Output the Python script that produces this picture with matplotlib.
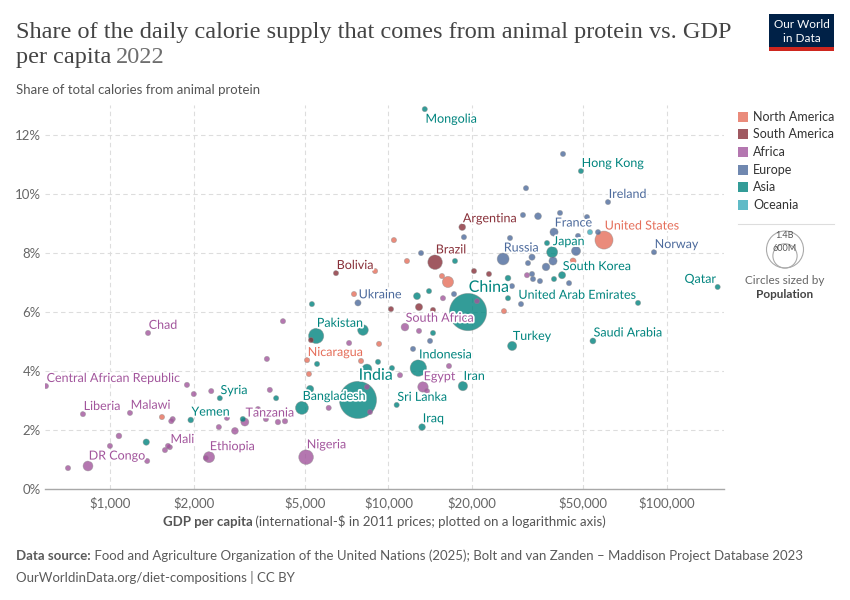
import matplotlib
matplotlib.use("Agg")
import matplotlib.pyplot as plt
import matplotlib.patheffects as pe
from matplotlib.patches import Rectangle, Circle
from matplotlib.colors import to_rgba
import numpy as np

# ---------------- data ----------------
# labelled countries
lab_names = ["Mongolia", "Hong Kong", "Ireland", "United States", "Norway", "Qatar",
             "Argentina", "Brazil", "Russia", "France", "Japan", "South Korea", "China",
             "United Arab Emirates", "Saudi Arabia", "Turkey", "Iran", "Iraq", "Sri Lanka",
             "Egypt", "Indonesia", "India", "Bangladesh", "Nigeria", "Pakistan", "Ukraine",
             "Bolivia", "South Africa", "Nicaragua", "Chad", "Central African Republic",
             "Liberia", "Malawi", "Yemen", "Syria", "Tanzania", "Mali", "Ethiopia", "DR Congo"]
lab_region = ["Asia", "Asia", "Europe", "North America", "Europe", "Asia",
              "South America", "South America", "Europe", "Europe", "Asia", "Asia", "Asia",
              "Asia", "Asia", "Asia", "Asia", "Asia", "Asia",
              "Africa", "Asia", "Asia", "Asia", "Africa", "Asia", "Europe",
              "South America", "Africa", "North America", "Africa", "Africa",
              "Africa", "Africa", "Asia", "Asia", "Africa", "Africa", "Africa", "Africa"]
lab_gdp = [13500, 49100, 61400, 59400, 89800, 152000,
           18400, 14700, 25800, 39300, 38700, 42000, 19300,
           78700, 54200, 27800, 18500, 13200, 10700,
           13300, 12800, 7770, 4890, 5060, 5500, 7770,
           6480, 11460, 5100, 1370, 589,
           800, 1180, 1950, 2480, 3050, 1640, 2270, 834]
lab_share = [12.88, 10.78, 9.73, 8.44, 8.03, 6.85,
             8.88, 7.69, 7.80, 8.71, 8.03, 7.25, 6.00,
             6.31, 5.02, 4.85, 3.49, 2.10, 2.85,
             3.46, 4.10, 3.02, 2.75, 1.08, 5.19, 6.31,
             7.32, 5.49, 4.37, 5.29, 3.49,
             2.54, 2.58, 2.34, 3.08, 2.27, 1.42, 1.08, 0.78]
lab_pop = [3.4, 7.3, 5.1, 333, 5.4, 2.7,
           46, 215, 144, 68, 124, 52, 1425,
           9.4, 36, 85, 89, 45, 22,
           111, 275, 1417, 171, 219, 236, 39,
           12, 60, 6.9, 17.7, 5.6,
           5.3, 20, 33, 22, 65, 22, 123, 99]

# unlabelled countries, by region (GDP per capita, share %, population in millions)
asia_gdp = [5310, 5540, 3950, 5230, 3000, 1350, 17330, 26860, 12660, 13980, 14450,
            8100, 8370, 9170, 10290, 26860, 37080, 39290]
asia_share = [6.27, 4.24, 3.08, 3.39, 2.37, 1.59, 7.73, 7.15, 6.54, 6.71, 5.29,
              5.39, 4.07, 4.31, 4.10, 6.47, 8.34, 7.12]
asia_pop = [5, 5, 5, 54, 30, 41, 5, 34, 50, 5, 5, 116, 98, 5, 5, 5, 5, 5]

oceania_gdp = [52900]
oceania_share = [8.71]
oceania_pop = [26]

europe_gdp = [13090, 17190, 14100, 12250, 29910, 27760, 18660, 27310, 42330, 31170,
              41290, 51610, 34430, 30400, 47920, 56530, 47140, 32760, 31690, 36780,
              38970, 32760, 33030, 34990, 44490]
europe_share = [8.00, 6.61, 5.02, 4.75, 6.27, 6.88, 8.54, 8.51, 11.36, 10.20,
                9.36, 9.22, 9.25, 9.29, 8.58, 8.71, 8.07, 7.86, 7.66, 7.53,
                7.73, 7.29, 7.12, 7.05, 6.98]
europe_pop = [5, 5, 5, 5, 5, 5, 5, 5, 5, 5,
              5, 5, 47, 5, 5, 5, 84, 39, 5, 59,
              68, 5, 5, 5, 5]

namerica_gdp = [10460, 11650, 8950, 15560, 16350, 7520, 25980, 45980, 9250, 7970, 5180, 1537]
namerica_share = [8.44, 7.73, 7.39, 7.22, 7.02, 6.61, 6.03, 7.73, 4.92, 4.34, 3.90, 2.44]
namerica_pop = [5, 5, 5, 5, 127, 5, 5, 39, 5, 5, 5, 11]

samerica_gdp = [20280, 22950, 5270, 12870, 10210, 14450]
samerica_share = [7.39, 7.29, 5.05, 6.17, 6.10, 6.07]
samerica_pop = [5, 5, 5, 52, 5, 5]

africa_gdp = [4180, 3660, 7220, 12870, 15690, 20790, 16490, 11000, 13750, 8370, 8580,
              6100, 31430, 1890, 2000, 2310, 3750, 3400, 1680, 1660, 2630, 3630, 4010,
              4250, 2460, 2810, 1077, 1000, 1616, 1576, 2210, 1360, 707]
africa_share = [5.69, 4.41, 4.95, 5.36, 6.47, 6.37, 4.17, 3.86, 3.32, 3.46, 2.61,
                2.75, 7.25, 3.53, 3.22, 3.32, 3.36, 2.71, 2.37, 2.30, 2.41, 2.37, 2.27,
                2.30, 2.10, 1.97, 1.80, 1.46, 1.46, 1.32, 1.05, 0.95, 0.71]
africa_pop = [5, 5, 5, 5, 5, 5, 5, 5, 5, 5, 5,
              5, 5, 5, 5, 5, 5, 5, 5, 5, 5, 5, 30,
              30, 5, 47, 33, 5, 5, 5, 5, 5, 5]

regions = ["North America", "South America", "Africa", "Europe", "Asia", "Oceania"]
region_colors = {"North America": "#E56E5A", "South America": "#883039",
                 "Africa": "#A2559C", "Europe": "#4C6A9C", "Asia": "#00847E",
                 "Oceania": "#38AABA"}

x_ticks = [1000, 2000, 5000, 10000, 20000, 50000, 100000]
x_ticklabels = ["$1,000", "$2,000", "$5,000", "$10,000", "$20,000", "$50,000", "$100,000"]
y_ticks = [0, 2, 4, 6, 8, 10, 12]
y_ticklabels = ["0%", "2%", "4%", "6%", "8%", "10%", "12%"]

# ---------------- styling ----------------
FONT = "Lato"
plt.rcParams["font.family"] = [FONT, "DejaVu Sans"]
R_MAX = 18.5      # px radius for 1.4B
POP_MAX = 1400.0
R_MIN = 2.6


def radius_px(p):
    return max(R_MIN, R_MAX * np.sqrt(p / POP_MAX))


def marker_area(p):
    return (2 * radius_px(p) * 0.72) ** 2


fig = plt.figure(figsize=(8.5, 6), dpi=100)
W, H = 850, 600
L, R, B, T = 45, 724, 489, 105
ax = fig.add_axes([L / W, 1 - B / H, (R - L) / W, (B - T) / H])

# collect all points
all_gdp, all_share, all_pop, all_reg = [], [], [], []
all_gdp += lab_gdp; all_share += lab_share; all_pop += lab_pop; all_reg += lab_region
for g, s, p, rname in [(asia_gdp, asia_share, asia_pop, "Asia"),
                       (oceania_gdp, oceania_share, oceania_pop, "Oceania"),
                       (europe_gdp, europe_share, europe_pop, "Europe"),
                       (namerica_gdp, namerica_share, namerica_pop, "North America"),
                       (samerica_gdp, samerica_share, samerica_pop, "South America"),
                       (africa_gdp, africa_share, africa_pop, "Africa")]:
    all_gdp += g; all_share += s; all_pop += p; all_reg += [rname] * len(g)

order = np.argsort(-np.array(all_pop), kind="stable")
gx = np.array(all_gdp)[order]
gy = np.array(all_share)[order]
gs = np.array([marker_area(p) for p in np.array(all_pop)[order]])
fc = [to_rgba(region_colors[all_reg[i]], 0.8) for i in order]
ax.scatter(gx, gy, s=gs, c=fc, edgecolors=[(0.55, 0.55, 0.55, 0.55)] * len(gx),
           linewidths=0.5, zorder=3)

# labels
halo = [pe.withStroke(linewidth=2.5, foreground="white")]
for n, rg, g, s, p in zip(lab_names, lab_region, lab_gdp, lab_share, lab_pop):
    r = radius_px(p)
    big = p > 1000
    fs = 11.5 if big else 9
    ha = "left"
    dx = 0.5
    dy = (r + 5.5) * 0.72
    if n == "Mongolia":
        dy = -(r + 7) * 0.72
    if n in ("Qatar", "United Arab Emirates"):
        ha = "right"
        dx = -1
    ax.annotate(n, (g, s), xytext=(dx, dy), textcoords="offset points",
                ha=ha, va="center", fontsize=fs, color=region_colors[rg],
                path_effects=halo, zorder=5)

ax.set_xscale("log")
ax.set_xlim(584.5, 160200)
ax.set_ylim(0, 13.02)
ax.set_xticks(x_ticks)
ax.set_xticklabels(x_ticklabels)
ax.xaxis.set_minor_locator(matplotlib.ticker.NullLocator())
ax.set_yticks(y_ticks)
ax.set_yticklabels(y_ticklabels)
ax.tick_params(length=0, labelsize=9.5, labelcolor="#666666")
ax.tick_params(axis="x", pad=5)
ax.tick_params(axis="y", pad=3)
ax.grid(True, color="#dddddd", linestyle=(0, (4, 3)), linewidth=0.8)
ax.set_axisbelow(True)
for sp in ["top", "right", "left"]:
    ax.spines[sp].set_visible(False)
ax.spines["bottom"].set_color("#a8a8a8")
ax.spines["bottom"].set_linewidth(1)

# ---------------- overlay (decorations in pixel coords) ----------------
ov = fig.add_axes([0, 0, 1, 1], facecolor="none")
ov.set_xlim(0, W)
ov.set_ylim(H, 0)
ov.axis("off")

fig.canvas.draw()
rend = fig.canvas.get_renderer()


def right_edge(t):
    bb = t.get_window_extent(renderer=rend)
    return bb.x1


def width_of(t):
    bb = t.get_window_extent(renderer=rend)
    return bb.width

TITLE_FONT = ["Liberation Serif", "DejaVu Serif"]
ov.text(16, 38, "Share of the daily calorie supply that comes from animal protein vs. GDP",
        fontsize=17.5, family=TITLE_FONT, color="#444444", va="baseline")
t2 = ov.text(16, 63, "per capita", fontsize=17.5, family=TITLE_FONT, color="#444444",
             va="baseline")
fig.canvas.draw()
ov.text(right_edge(t2) + 5, 63, "2022", fontsize=17.5, family=TITLE_FONT,
        color="#6e6e6e", va="baseline")

ov.text(16, 90, "Share of total calories from animal protein", fontsize=9.5,
        color="#555555", va="center")

# x-axis title (bold + normal), centred under plot
xb = ov.text(0, 522, "GDP per capita", fontsize=9.5, fontweight="bold",
             color="#555555", va="center")
xn = ov.text(0, 522, " (international-$ in 2011 prices; plotted on a logarithmic axis)",
             fontsize=9.5, color="#555555", va="center")
fig.canvas.draw()
wb, wn = width_of(xb), width_of(xn)
x0 = (L + R) / 2 - (wb + wn) / 2
xb.set_x(x0)
xn.set_x(x0 + wb)

# footer
fb = ov.text(16, 556, "Data source:", fontsize=9.5, fontweight="bold",
             color="#5b5b5b", va="center")
fig.canvas.draw()
ov.text(16 + width_of(fb), 556,
        " Food and Agriculture Organization of the United Nations (2025); Bolt and van Zanden \u2013 Maddison Project Database 2023",
        fontsize=9.5, color="#5b5b5b", va="center")
ov.text(16, 578, "OurWorldinData.org/diet-compositions | CC BY", fontsize=9.5,
        color="#5b5b5b", va="center")

# logo
ov.add_patch(Rectangle((769, 14), 65, 34, facecolor="#002147", edgecolor="none"))
ov.add_patch(Rectangle((769, 47), 65, 3.5, facecolor="#ce261e", edgecolor="none"))
ov.text(801.5, 25, "Our World", fontsize=8.5, color="white", ha="center", va="center")
ov.text(801.5, 38, "in Data", fontsize=8.5, color="white", ha="center", va="center")

# colour legend
leg_y = [117, 134, 152, 170, 187, 205]
for rg, yy in zip(regions, leg_y):
    ov.add_patch(Rectangle((738, yy - 5), 10, 10,
                           facecolor=to_rgba(region_colors[rg], 0.8), edgecolor="none"))
    ov.text(753, yy, rg, fontsize=9, color="#333333", va="center")
ov.plot([738, 834], [224, 224], color="#dddddd", lw=0.8)

# size legend
cx, base = 785, 268
for pop_v, lbl in [(1400, "1.4B"), (600, "600M")]:
    r = radius_px(pop_v)
    ov.add_patch(Circle((cx, base - r), r, fill=False, edgecolor="#aaaaaa", lw=0.8))
    ov.text(cx, base - 2 * r + 5, lbl, fontsize=6.5, color="#555555",
            ha="center", va="center")
ov.text(cx, 280, "Circles sized by", fontsize=8.5, color="#666666",
        ha="center", va="center")
ov.text(cx, 294, "Population", fontsize=8.5, fontweight="bold", color="#444444",
        ha="center", va="center")

fig.savefig("out.png", dpi=100)
